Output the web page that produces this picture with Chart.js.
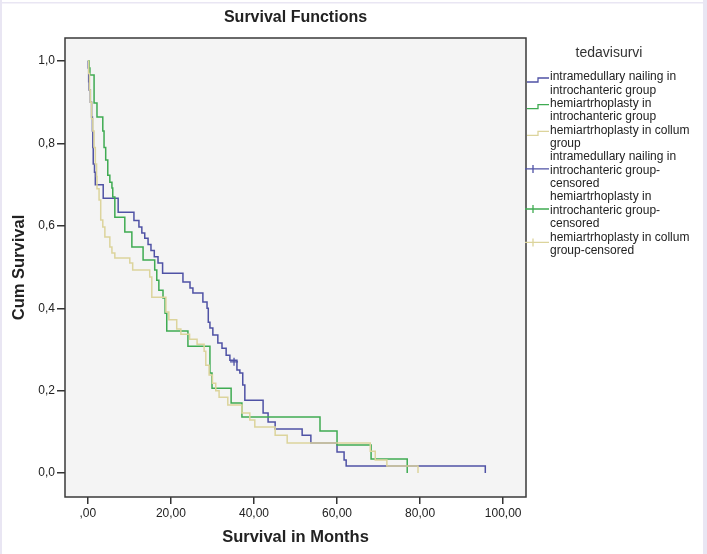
<!DOCTYPE html>
<html>
<head>
<meta charset="utf-8">
<script src="https://cdn.jsdelivr.net/npm/chart.js@4.4.0/dist/chart.umd.min.js"></script>
<style>
  html, body { margin: 0; padding: 0; background: #fff; }
  #wrap { width: 707px; height: 554px; }
</style>
</head>
<body>
<div id="wrap"><canvas id="survChart" width="707" height="554"></canvas></div>
<script>
// Kaplan-Meier steps (time in months, cumulative survival)
const nailingIntroTimes = [0, 0.1, 0.2, 0.3, 0.6, 0.9, 1.1, 1.2, 1.3, 1.6, 1.8, 3.7, 7.3, 11.1, 12.3, 13.0, 13.7, 14.5, 15.2, 16.0, 16.9, 18.0, 22.9, 24.6, 25.3, 27.7, 28.7, 29.0, 29.4, 30.1, 31.3, 32.3, 33.3, 34.2, 35.9, 36.6, 37.3, 37.8, 42.2, 43.4, 45.1, 51.6, 53.7, 60.0, 61.7, 62.2, 95.7];
const nailingIntroSurv  = [1.0, 0.983, 0.95, 0.93, 0.90, 0.864, 0.83, 0.79, 0.75, 0.73, 0.70, 0.667, 0.633, 0.613, 0.597, 0.583, 0.57, 0.555, 0.54, 0.525, 0.51, 0.485, 0.464, 0.449, 0.437, 0.415, 0.40, 0.366, 0.352, 0.335, 0.316, 0.303, 0.286, 0.274, 0.25, 0.243, 0.214, 0.177, 0.146, 0.124, 0.107, 0.092, 0.073, 0.051, 0.032, 0.017, 0];

const hemiIntroTimes = [0, 0.3, 0.5, 1.5, 2.2, 3.6, 3.9, 4.3, 4.8, 5.3, 5.8, 6.0, 6.5, 8.9, 10.6, 13.3, 16.1, 16.6, 17.1, 18.1, 18.6, 19.0, 24.1, 29.4, 29.9, 34.5, 37.1, 55.9, 60.0, 68.2, 76.9];
const hemiIntroSurv  = [1.0, 0.983, 0.966, 0.898, 0.864, 0.83, 0.79, 0.76, 0.723, 0.706, 0.692, 0.67, 0.621, 0.585, 0.549, 0.517, 0.493, 0.468, 0.444, 0.425, 0.388, 0.345, 0.308, 0.243, 0.206, 0.17, 0.136, 0.102, 0.068, 0.034, 0];

const hemiCollumTimes = [0, 0.2, 0.4, 0.6, 0.9, 1.2, 1.5, 1.8, 2.1, 2.2, 2.7, 3.1, 3.6, 4.1, 5.3, 5.8, 6.5, 10.1, 10.8, 14.9, 15.4, 18.8, 19.5, 21.4, 22.4, 24.5, 26.3, 28.0, 28.4, 29.2, 30.0, 30.8, 31.6, 33.7, 37.1, 39.0, 40.2, 45.1, 48.0, 68.0, 69.2, 72.0, 79.5];
const hemiCollumSurv  = [1.0, 0.97, 0.93, 0.90, 0.86, 0.83, 0.79, 0.75, 0.72, 0.69, 0.663, 0.614, 0.597, 0.573, 0.549, 0.534, 0.522, 0.51, 0.493, 0.476, 0.427, 0.391, 0.372, 0.35, 0.337, 0.325, 0.313, 0.296, 0.262, 0.238, 0.218, 0.2, 0.184, 0.165, 0.146, 0.129, 0.112, 0.092, 0.073, 0.053, 0.032, 0.017, 0];

// censored cases
const nailingIntroCensTimes = [35.2];
const nailingIntroCensSurv  = [0.27];
const hemiIntroCensTimes = [];
const hemiIntroCensSurv  = [];
const hemiCollumCensTimes = [];
const hemiCollumCensSurv  = [];

const seriesNames = [
    ['intramedullary nailing in', 'introchanteric group'],
    ['hemiartrhoplasty in', 'introchanteric group'],
    ['hemiartrhoplasty in collum', 'group'],
    ['intramedullary nailing in', 'introchanteric group-', 'censored'],
    ['hemiartrhoplasty in', 'introchanteric group-', 'censored'],
    ['hemiartrhoplasty in collum', 'group-censored']
];
const seriesColors = ['#4f52a5', '#3fab52', '#dcd49c'];

const xTickValues = [0, 20, 40, 60, 80, 100];
const xTickLabels = [',00', '20,00', '40,00', '60,00', '80,00', '100,00'];
const yTickValues = [0, 0.2, 0.4, 0.6, 0.8, 1.0];
const yTickLabels = ['0,0', '0,2', '0,4', '0,6', '0,8', '1,0'];

const FONT = "'Liberation Sans', Arial, sans-serif";

function toPoints(times, surv) {
    return times.map((t, i) => ({ x: t, y: surv[i] }));
}

const pagePlugin = {
    id: 'pagePlugin',
    beforeDraw(chart) {
        const ctx = chart.ctx;
        const a = chart.chartArea;
        ctx.save();
        ctx.fillStyle = '#ffffff';
        ctx.fillRect(0, 0, chart.width, chart.height);
        // outer frame
        ctx.fillStyle = '#e9e6f3';
        ctx.fillRect(0, 0, 2, chart.height);
        ctx.fillRect(703, 0, 4, chart.height);
        ctx.fillRect(0, 2, chart.width, 1.5);
        // plot background
        ctx.fillStyle = '#f4f4f4';
        ctx.fillRect(a.left, a.top, a.right - a.left, a.bottom - a.top);
        ctx.restore();
    },
    afterDraw(chart) {
        const ctx = chart.ctx;
        const a = chart.chartArea;
        ctx.save();
        ctx.strokeStyle = '#3a3a3a';
        ctx.lineWidth = 1.5;
        ctx.strokeRect(a.left, a.top, a.right - a.left, a.bottom - a.top);

        // title
        ctx.fillStyle = '#222';
        ctx.font = 'bold 16px ' + FONT;
        ctx.textAlign = 'center';
        ctx.textBaseline = 'middle';
        ctx.fillText('Survival Functions', (a.left + a.right) / 2, 18);

        // legend
        ctx.font = '14px ' + FONT;
        ctx.fillStyle = '#333';
        ctx.fillText('tedavisurvi', 609, 53);

        ctx.font = '12px ' + FONT;
        ctx.textAlign = 'left';
        let line = 0;
        const y0 = 77, lh = 13.35;
        seriesNames.forEach((lines, i) => {
            const first = y0 + line * lh;
            const mid = first + (lines.length - 1) * lh / 2;
            ctx.strokeStyle = seriesColors[i % 3];
            ctx.lineWidth = 1.3;
            ctx.beginPath();
            if (i < 3) {
                ctx.moveTo(527, first + 5);
                ctx.lineTo(538, first + 5);
                ctx.lineTo(538, first + 1);
                ctx.lineTo(549, first + 1);
            } else {
                ctx.moveTo(525, mid - 1.5);
                ctx.lineTo(549, mid - 1.5);
                ctx.moveTo(533, mid - 5.5);
                ctx.lineTo(533, mid + 2.5);
            }
            ctx.stroke();
            ctx.fillStyle = '#222';
            lines.forEach(txt => {
                ctx.fillText(txt, 550, y0 + line * lh);
                line++;
            });
        });
        ctx.restore();
    }
};

const ctx = document.getElementById('survChart').getContext('2d');
new Chart(ctx, {
    type: 'line',
    data: {
        datasets: [
            { label: seriesNames[0].join(' '), data: toPoints(nailingIntroTimes, nailingIntroSurv), borderColor: seriesColors[0] },
            { label: seriesNames[1].join(' '), data: toPoints(hemiIntroTimes, hemiIntroSurv), borderColor: seriesColors[1] },
            { label: seriesNames[2].join(' '), data: toPoints(hemiCollumTimes, hemiCollumSurv), borderColor: seriesColors[2] },
            { label: seriesNames[3].join(' '), data: toPoints(nailingIntroCensTimes, nailingIntroCensSurv), borderColor: seriesColors[0], showLine: false, pointStyle: 'cross', pointRadius: 4, pointBorderWidth: 1.3 },
            { label: seriesNames[4].join(' '), data: toPoints(hemiIntroCensTimes, hemiIntroCensSurv), borderColor: seriesColors[1], showLine: false, pointStyle: 'cross', pointRadius: 4, pointBorderWidth: 1.3 },
            { label: seriesNames[5].join(' '), data: toPoints(hemiCollumCensTimes, hemiCollumCensSurv), borderColor: seriesColors[2], showLine: false, pointStyle: 'cross', pointRadius: 4, pointBorderWidth: 1.3 }
        ].map((d, i) => Object.assign({
            stepped: 'before',
            borderWidth: 1.5,
            pointRadius: 0,
            fill: false,
            order: 3 - (i % 3)
        }, d))
    },
    options: {
        responsive: false,
        animation: false,
        devicePixelRatio: 1,
        layout: { padding: { left: 0, top: 38, right: 181, bottom: 0 } },
        plugins: {
            legend: { display: false },
            title: { display: false },
            tooltip: { enabled: false }
        },
        scales: {
            x: {
                type: 'linear',
                min: -5.5,
                max: 105.5,
                afterFit: s => { s.height = 57; },
                afterBuildTicks: s => { s.ticks = xTickValues.map(v => ({ value: v })); },
                ticks: {
                    autoSkip: false,
                    maxRotation: 0,
                    padding: 2,
                    color: '#222',
                    font: { family: FONT, size: 12 },
                    callback: v => xTickLabels[xTickValues.indexOf(v)]
                },
                grid: { drawOnChartArea: false, drawTicks: true, tickLength: 7, color: '#333', lineWidth: 1.5 },
                border: { display: false },
                title: {
                    display: true,
                    text: 'Survival in Months',
                    color: '#222',
                    font: { family: FONT, size: 16.5, weight: 'bold' },
                    padding: { top: 0, bottom: 7 }
                }
            },
            y: {
                min: -0.058,
                max: 1.056,
                afterFit: s => { s.width = 65; },
                afterBuildTicks: s => { s.ticks = yTickValues.map(v => ({ value: v })); },
                ticks: {
                    padding: 2,
                    color: '#222',
                    font: { family: FONT, size: 12 },
                    callback: v => yTickLabels[yTickValues.findIndex(t => Math.abs(t - v) < 1e-6)]
                },
                grid: { drawOnChartArea: false, drawTicks: true, tickLength: 8, color: '#333', lineWidth: 1.5 },
                border: { display: false },
                title: {
                    display: true,
                    text: 'Cum Survival',
                    color: '#222',
                    font: { family: FONT, size: 16.5, weight: 'bold' },
                    padding: { top: 10, bottom: 0 }
                }
            }
        }
    },
    plugins: [pagePlugin]
});
</script>
</body>
</html>
